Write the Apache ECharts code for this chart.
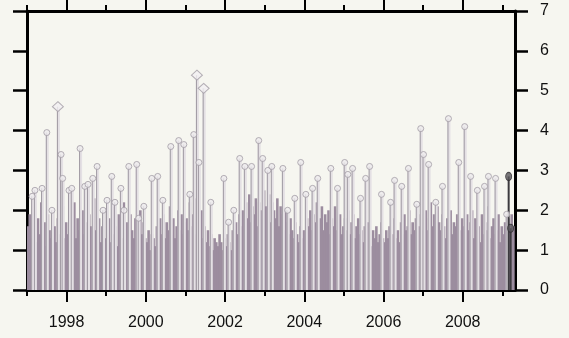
<!DOCTYPE html>
<html>
<head>
<meta charset="utf-8">
<script src="https://cdn.jsdelivr.net/npm/echarts@6/dist/echarts.min.js"></script>
<style>
html,body{margin:0;padding:0;background:#f6f6f0;}
#c{width:569px;height:338px;}
</style>
</head>
<body>
<div id="c"></div>
<script>
// ---- data (decimal years, values) ----
const xMin = 1997, xMax = 2009.32;
const majorTicks = [1998, 2000, 2002, 2004, 2006, 2008];
const minorTicks = [1997, 1999, 2001, 2003, 2005, 2007, 2009];

// dense background stems, twice a month from 1997.0
const baseStart = 1997.0;
const baseStep = 1 / 24;
const baseValues = [
  1.6,1.9,1.3,2.1,1.5,1.2,1.8,1.4,2.2,1.3,1.7,1.1,1.9,1.5,1.3,2.0,1.6,1.2,1.8,1.4,1.5,2.1,1.3,1.7,
  1.4,1.9,1.2,1.6,2.2,1.3,1.8,1.5,1.1,2.0,1.4,1.7,1.3,1.9,1.6,1.2,2.3,1.5,1.4,1.8,1.2,1.6,2.0,1.3,
  1.5,1.8,1.2,2.1,1.4,1.6,1.1,1.9,1.5,1.3,2.2,1.4,1.7,1.2,1.9,1.5,1.3,1.8,1.6,1.1,2.0,1.4,1.7,1.3,
  1.2,1.5,1.0,1.4,1.3,1.1,1.6,1.2,1.8,1.4,1.9,1.3,1.7,1.5,2.1,1.4,1.8,1.3,1.6,2.0,1.5,1.9,1.4,1.7,
  1.8,1.5,2.2,1.6,1.9,1.4,2.3,1.7,1.5,2.0,1.3,1.6,1.2,1.5,1.1,1.4,1.0,1.3,1.2,1.1,1.4,1.2,1.0,1.3,
  1.1,1.4,1.2,1.0,1.5,1.3,1.7,1.4,1.9,1.6,2.0,1.5,2.2,1.8,2.4,1.7,2.1,1.9,2.3,1.6,2.2,2.0,1.8,2.5,
  2.1,1.9,2.4,1.7,2.2,2.0,1.8,2.3,1.6,2.1,1.9,1.5,2.0,1.7,1.4,1.8,1.5,1.3,1.7,1.4,1.2,1.6,1.3,1.5,
  1.4,1.8,1.6,2.0,1.5,1.9,1.7,2.2,1.6,1.8,2.1,1.5,1.9,1.7,2.0,1.4,1.8,1.6,2.1,1.5,1.7,1.9,1.4,1.6,
  1.8,1.5,2.0,1.4,1.7,1.9,1.3,1.6,1.8,1.4,1.5,1.2,1.6,1.3,1.7,1.4,1.1,1.5,1.3,1.6,1.2,1.4,1.7,1.3,
  1.2,1.5,1.3,1.6,1.1,1.4,1.8,1.3,1.5,1.2,1.7,1.4,1.9,1.5,1.6,2.0,1.4,1.7,1.5,1.8,1.3,1.6,1.9,1.5,
  1.7,2.0,1.5,1.8,2.2,1.6,1.9,1.4,2.1,1.7,1.5,1.9,1.6,1.3,1.8,1.5,2.0,1.4,1.7,1.6,1.9,1.3,1.5,1.8,
  1.6,1.4,1.9,1.5,1.7,2.0,1.3,1.8,1.5,1.6,1.2,1.9,1.4,1.7,1.5,2.1,1.3,1.6,1.8,1.4,1.5,1.9,1.2,1.6,
  1.4,1.7,1.3,1.8,1.5,1.9,1.6
];

// peaks with circle markers
const peakYears = [
  1997.13,1997.20,1997.38,1997.50,1997.63,1997.86,1997.90,1998.06,1998.13,1998.34,
  1998.46,1998.54,1998.66,1998.77,1998.92,1999.02,1999.14,1999.22,1999.37,1999.45,
  1999.57,1999.77,1999.82,1999.95,2000.15,2000.30,2000.43,2000.63,2000.83,2000.96,
  2001.11,2001.21,2001.34,2001.64,2001.97,2002.09,2002.22,2002.37,2002.50,2002.67,
  2002.85,2002.95,2003.08,2003.18,2003.46,2003.58,2003.76,2003.91,2004.04,2004.21,
  2004.34,2004.67,2004.84,2005.02,2005.10,2005.22,2005.42,2005.55,2005.65,2005.95,
  2006.18,2006.28,2006.46,2006.63,2006.84,2006.94,2007.01,2007.14,2007.32,2007.49,
  2007.64,2007.90,2008.05,2008.20,2008.37,2008.55,2008.65,2008.83,2009.11
];
const peakValues = [
  2.35,2.5,2.55,3.95,2.0,3.4,2.8,2.5,2.55,3.55,
  2.6,2.65,2.8,3.1,2.0,2.25,2.85,2.2,2.55,2.0,
  3.1,3.15,1.8,2.1,2.8,2.85,2.25,3.6,3.75,3.65,
  2.4,3.9,3.2,2.2,2.8,1.7,2.0,3.3,3.1,3.1,
  3.75,3.3,3.0,3.1,3.05,2.0,2.3,3.2,2.4,2.55,
  2.8,3.05,2.55,3.2,2.9,3.05,2.3,2.8,3.1,2.4,
  2.2,2.75,2.6,3.05,2.15,4.05,3.4,3.15,2.2,2.6,
  4.3,3.2,4.1,2.85,2.5,2.6,2.85,2.8,1.9
];

// largest peaks (diamond markers)
const bigYears = [1997.78, 2001.29, 2001.46];
const bigValues = [4.6, 5.39, 5.06];

// last (dark) observations
const lastYears = [2009.16, 2009.21];
const lastValues = [2.85, 1.55];

// ---- build ----
const baseData = baseValues.map((v, i) => [baseStart + (i + 0.5) * baseStep, v]);
const peakData = peakYears.map((x, i) => [x, peakValues[i]]);
const bigData = bigYears.map((x, i) => [x, bigValues[i]]);
const lastData = lastYears.map((x, i) => [x, lastValues[i]]);
const allPeaks = peakData.concat(bigData);

const font = 'Liberation Sans, Arial, sans-serif';
const axisCol = '#000000';

function xAxisDef(pos, ticks, len, showLine, showLabel) {
  return {
    type: 'value', position: pos, min: xMin, max: xMax,
    axisLine: { show: showLine, onZero: false, lineStyle: { color: axisCol, width: 3 } },
    axisTick: { show: true, inside: false, length: len, customValues: ticks,
                lineStyle: { color: axisCol, width: 2 } },
    axisLabel: { show: showLabel, customValues: ticks, margin: 25,
                 fontSize: 16, color: '#111', fontFamily: font,
                 formatter: v => String(Math.round(v)) },
    splitLine: { show: false }
  };
}

const chart = echarts.init(document.getElementById('c'), null, { renderer: 'canvas' });
chart.setOption({
  animation: false,
  backgroundColor: '#f6f6f0',
  grid: { left: 27, right: 54, top: 11, bottom: 48, containLabel: false },
  xAxis: [
    xAxisDef('bottom', majorTicks, 12, true, true),
    xAxisDef('bottom', minorTicks, 6, false, false),
    xAxisDef('top', majorTicks, 12, true, false),
    xAxisDef('top', minorTicks, 6, false, false)
  ],
  yAxis: [
    { type: 'value', position: 'right', min: 0, max: 7, interval: 1,
      axisLine: { show: true, lineStyle: { color: axisCol, width: 3 } },
      axisTick: { show: true, inside: false, length: 13, lineStyle: { color: axisCol, width: 2.5 } },
      axisLabel: { show: true, margin: 25, fontSize: 16, color: '#111', fontFamily: font },
      splitLine: { show: false } },
    { type: 'value', position: 'left', min: 0, max: 7, interval: 1,
      axisLine: { show: true, lineStyle: { color: axisCol, width: 3 } },
      axisTick: { show: true, inside: false, length: 14, lineStyle: { color: axisCol, width: 2.5 } },
      axisLabel: { show: false },
      splitLine: { show: false } }
  ],
  series: [
    { type: 'bar', data: baseData, barWidth: 2.6, barGap: '-100%', z: 2,
      itemStyle: { color: '#9c8d9f' }, silent: true },
    { type: 'bar', data: allPeaks, barWidth: 3, barGap: '-100%', z: 3,
      itemStyle: { color: '#e4e0e4' }, silent: true },
    { type: 'bar', data: allPeaks, barWidth: 1, barGap: '-100%', z: 4,
      itemStyle: { color: '#9f99a2' }, silent: true },
    { type: 'bar', data: lastData, barWidth: 2, barGap: '-100%', z: 4,
      itemStyle: { color: '#3c3a3e' }, silent: true },
    { type: 'scatter', data: peakData, symbol: 'circle', symbolSize: 6, z: 5,
      itemStyle: { color: '#eeebee', borderColor: '#a29ca5', borderWidth: 1 } },
    { type: 'scatter', data: bigData, symbol: 'diamond', symbolSize: [11, 10], z: 5,
      itemStyle: { color: '#f2f0f2', borderColor: '#a29ca5', borderWidth: 1 } },
    { type: 'scatter', data: lastData, symbol: 'circle', symbolSize: [6, 8], z: 6,
      itemStyle: { color: '#5a575c', borderColor: '#2e2c30', borderWidth: 1 } }
  ]
});
</script>
</body>
</html>
